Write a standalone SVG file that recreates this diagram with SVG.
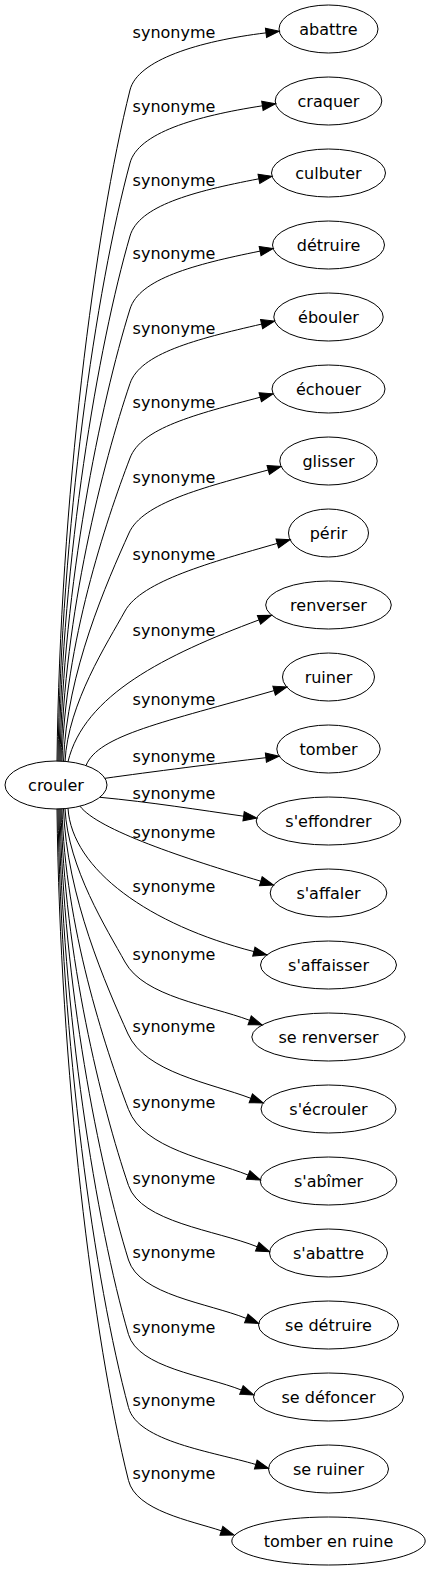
<svg xmlns="http://www.w3.org/2000/svg" width="430" height="1571" viewBox="0 0 430 1571">
<style>
text{font-family:"DejaVu Sans","Liberation Sans",sans-serif;font-size:16px;fill:#000;text-anchor:middle}
.node ellipse{fill:none;stroke:#000;stroke-width:1}
#edges path{fill:none;stroke:#000;stroke-width:1;marker-end:url(#arr)}
</style>
<defs>
<marker id="arr" viewBox="0 0 10 7" refX="0" refY="3.5" markerWidth="13.3" markerHeight="9.31" markerUnits="userSpaceOnUse" orient="auto" overflow="visible">
<path d="M0,0 L10,3.5 L0,7 z" fill="#000" stroke="#000" stroke-width="0.75"/>
</marker>
</defs>
<rect width="430" height="1571" fill="#fff"/>
<g id="edges">
<path d="M57,761.2 C60,500 95,230 130,90 C137.5,60 198.5,41.1 266,32.86"/>
<path d="M58,761.2 C61,528.4 96,288.8 130,163 C138.1,133 195.2,116.2 262.4,105.8"/>
<path d="M59,761.2 C62,556.9 98,346.5 130,236 C138.7,206 192.1,191.6 258.9,178.8"/>
<path d="M60,761.2 C63,585.3 100.5,404.1 130,309 C139.3,279 193.5,264.5 260.1,251.1"/>
<path d="M61,761.2 C64,614.4 103,463 130,383.5 C140.2,353.5 195.3,339.3 261.6,324.1"/>
<path d="M62,761.3 C65,643.4 105.7,521.8 130,458 C141.4,428 194.55,414.7 260.25,397.2"/>
<path d="M63.5,761.4 C66.5,672.7 107.4,581.1 129,533 C142.5,503 202.55,487.66 268.25,469.96"/>
<path d="M65,761.6 C68,703.1 107.6,642.7 125,611 C141.5,581 212,562.1 277.3,543.4"/>
<path d="M68,761.7 C84,695 165,655 259,619.9"/>
<path d="M86,765.6 C98,735 165,722 274.1,690.6"/>
<path d="M105,778.3 C150,772 220,763 265.9,757.7"/>
<path d="M100,797.3 C150,802 200,810 243.6,816.2"/>
<path d="M80,806.2 C98,830 185,858.5 260.8,881.2"/>
<path d="M68,808.3 C72,870 150,925 253.85,951.56"/>
<path d="M65,808.6 C68,868 107.2,929.7 125,962 C144.2,997 208.85,1005 249.65,1020.3"/>
<path d="M63.5,808.6 C66.5,896.1 106.6,986.5 128,1034 C145.4,1072.6 210.6,1083 250.8,1098.3"/>
<path d="M62,808.7 C65,925.6 104.4,1046.2 128.5,1109.5 C143.5,1148.9 209.25,1159.5 248.15,1175.06"/>
<path d="M61,808.8 C64,955.2 101.5,1106.2 128.5,1185.5 C141,1222.3 215.45,1230.06 257.25,1246.76"/>
<path d="M60,808.8 C63,984.3 99.1,1165.1 128.5,1260 C139.4,1295 208,1303.1 246.3,1318.4"/>
<path d="M59,808.8 C62,1013.3 96.4,1223.9 128.5,1334.5 C138.2,1367.9 204.7,1375.4 241.4,1390.06"/>
<path d="M58,808.8 C61,1041.8 94.5,1281.6 128.5,1407.5 C137.7,1441.7 213.1,1451.7 255.8,1464.5"/>
<path d="M57,808.8 C60,1070.3 93.2,1339.3 128.5,1480.5 C136,1510.7 190.5,1520.6 221.4,1530.8"/>
<text x="174" y="38">synonyme</text>
<text x="174" y="112">synonyme</text>
<text x="174" y="186">synonyme</text>
<text x="174" y="259">synonyme</text>
<text x="174" y="333.5">synonyme</text>
<text x="174" y="408">synonyme</text>
<text x="174" y="483">synonyme</text>
<text x="174" y="560">synonyme</text>
<text x="174" y="636">synonyme</text>
<text x="174" y="705">synonyme</text>
<text x="174" y="761.5">synonyme</text>
<text x="174" y="799">synonyme</text>
<text x="174" y="837.5">synonyme</text>
<text x="174" y="892">synonyme</text>
<text x="174" y="959.5">synonyme</text>
<text x="174" y="1032">synonyme</text>
<text x="174" y="1107.5">synonyme</text>
<text x="174" y="1183.5">synonyme</text>
<text x="174" y="1258">synonyme</text>
<text x="174" y="1332.5">synonyme</text>
<text x="174" y="1405.5">synonyme</text>
<text x="174" y="1478.5">synonyme</text>
</g>
<g id="crouler" class="node"><ellipse cx="56" cy="785" rx="51" ry="24"/><text x="56" y="790.5">crouler</text></g>
<g id="abattre" class="node"><ellipse cx="328.5" cy="29" rx="49.5" ry="24"/><text x="328.5" y="34.5">abattre</text></g>
<g id="craquer" class="node"><ellipse cx="328.5" cy="101" rx="53.3" ry="24"/><text x="328.5" y="106.5">craquer</text></g>
<g id="culbuter" class="node"><ellipse cx="328.5" cy="173" rx="57" ry="24"/><text x="328.5" y="178.5">culbuter</text></g>
<g id="detruire" class="node"><ellipse cx="328.5" cy="245" rx="56" ry="24"/><text x="328.5" y="250.5">détruire</text></g>
<g id="ebouler" class="node"><ellipse cx="328.5" cy="317" rx="54.7" ry="24"/><text x="328.5" y="322.5">ébouler</text></g>
<g id="echouer" class="node"><ellipse cx="328.5" cy="389" rx="56.5" ry="24"/><text x="328.5" y="394.5">échouer</text></g>
<g id="glisser" class="node"><ellipse cx="328.5" cy="461" rx="48.7" ry="24"/><text x="328.5" y="466.5">glisser</text></g>
<g id="perir" class="node"><ellipse cx="328.5" cy="533" rx="40" ry="24"/><text x="328.5" y="538.5">périr</text></g>
<g id="renverser" class="node"><ellipse cx="328.5" cy="605" rx="62.8" ry="24"/><text x="328.5" y="610.5">renverser</text></g>
<g id="ruiner" class="node"><ellipse cx="328.5" cy="677" rx="46" ry="24"/><text x="328.5" y="682.5">ruiner</text></g>
<g id="tomber" class="node"><ellipse cx="328.5" cy="749" rx="51.7" ry="24"/><text x="328.5" y="754.5">tomber</text></g>
<g id="seffondrer" class="node"><ellipse cx="328.5" cy="821" rx="72.3" ry="24"/><text x="328.5" y="826.5">s'effondrer</text></g>
<g id="saffaler" class="node"><ellipse cx="328.5" cy="893" rx="58.3" ry="24"/><text x="328.5" y="898.5">s'affaler</text></g>
<g id="saffaisser" class="node"><ellipse cx="328.5" cy="965" rx="68" ry="24"/><text x="328.5" y="970.5">s'affaisser</text></g>
<g id="se-renverser" class="node"><ellipse cx="328.5" cy="1037" rx="76.7" ry="24"/><text x="328.5" y="1042.5">se renverser</text></g>
<g id="secrouler" class="node"><ellipse cx="328.5" cy="1109" rx="67.5" ry="24"/><text x="328.5" y="1114.5">s'écrouler</text></g>
<g id="sabimer" class="node"><ellipse cx="328.5" cy="1181" rx="68.3" ry="24"/><text x="328.5" y="1186.5">s'abîmer</text></g>
<g id="sabattre" class="node"><ellipse cx="328.5" cy="1253" rx="59" ry="24"/><text x="328.5" y="1258.5">s'abattre</text></g>
<g id="se-detruire" class="node"><ellipse cx="328.5" cy="1325" rx="70" ry="24"/><text x="328.5" y="1330.5">se détruire</text></g>
<g id="se-defoncer" class="node"><ellipse cx="328.5" cy="1397" rx="75" ry="24"/><text x="328.5" y="1402.5">se défoncer</text></g>
<g id="se-ruiner" class="node"><ellipse cx="328.5" cy="1469" rx="60" ry="24"/><text x="328.5" y="1474.5">se ruiner</text></g>
<g id="tomber-en-ruine" class="node"><ellipse cx="328.5" cy="1541" rx="96.7" ry="24"/><text x="328.5" y="1546.5">tomber en ruine</text></g>
</svg>
